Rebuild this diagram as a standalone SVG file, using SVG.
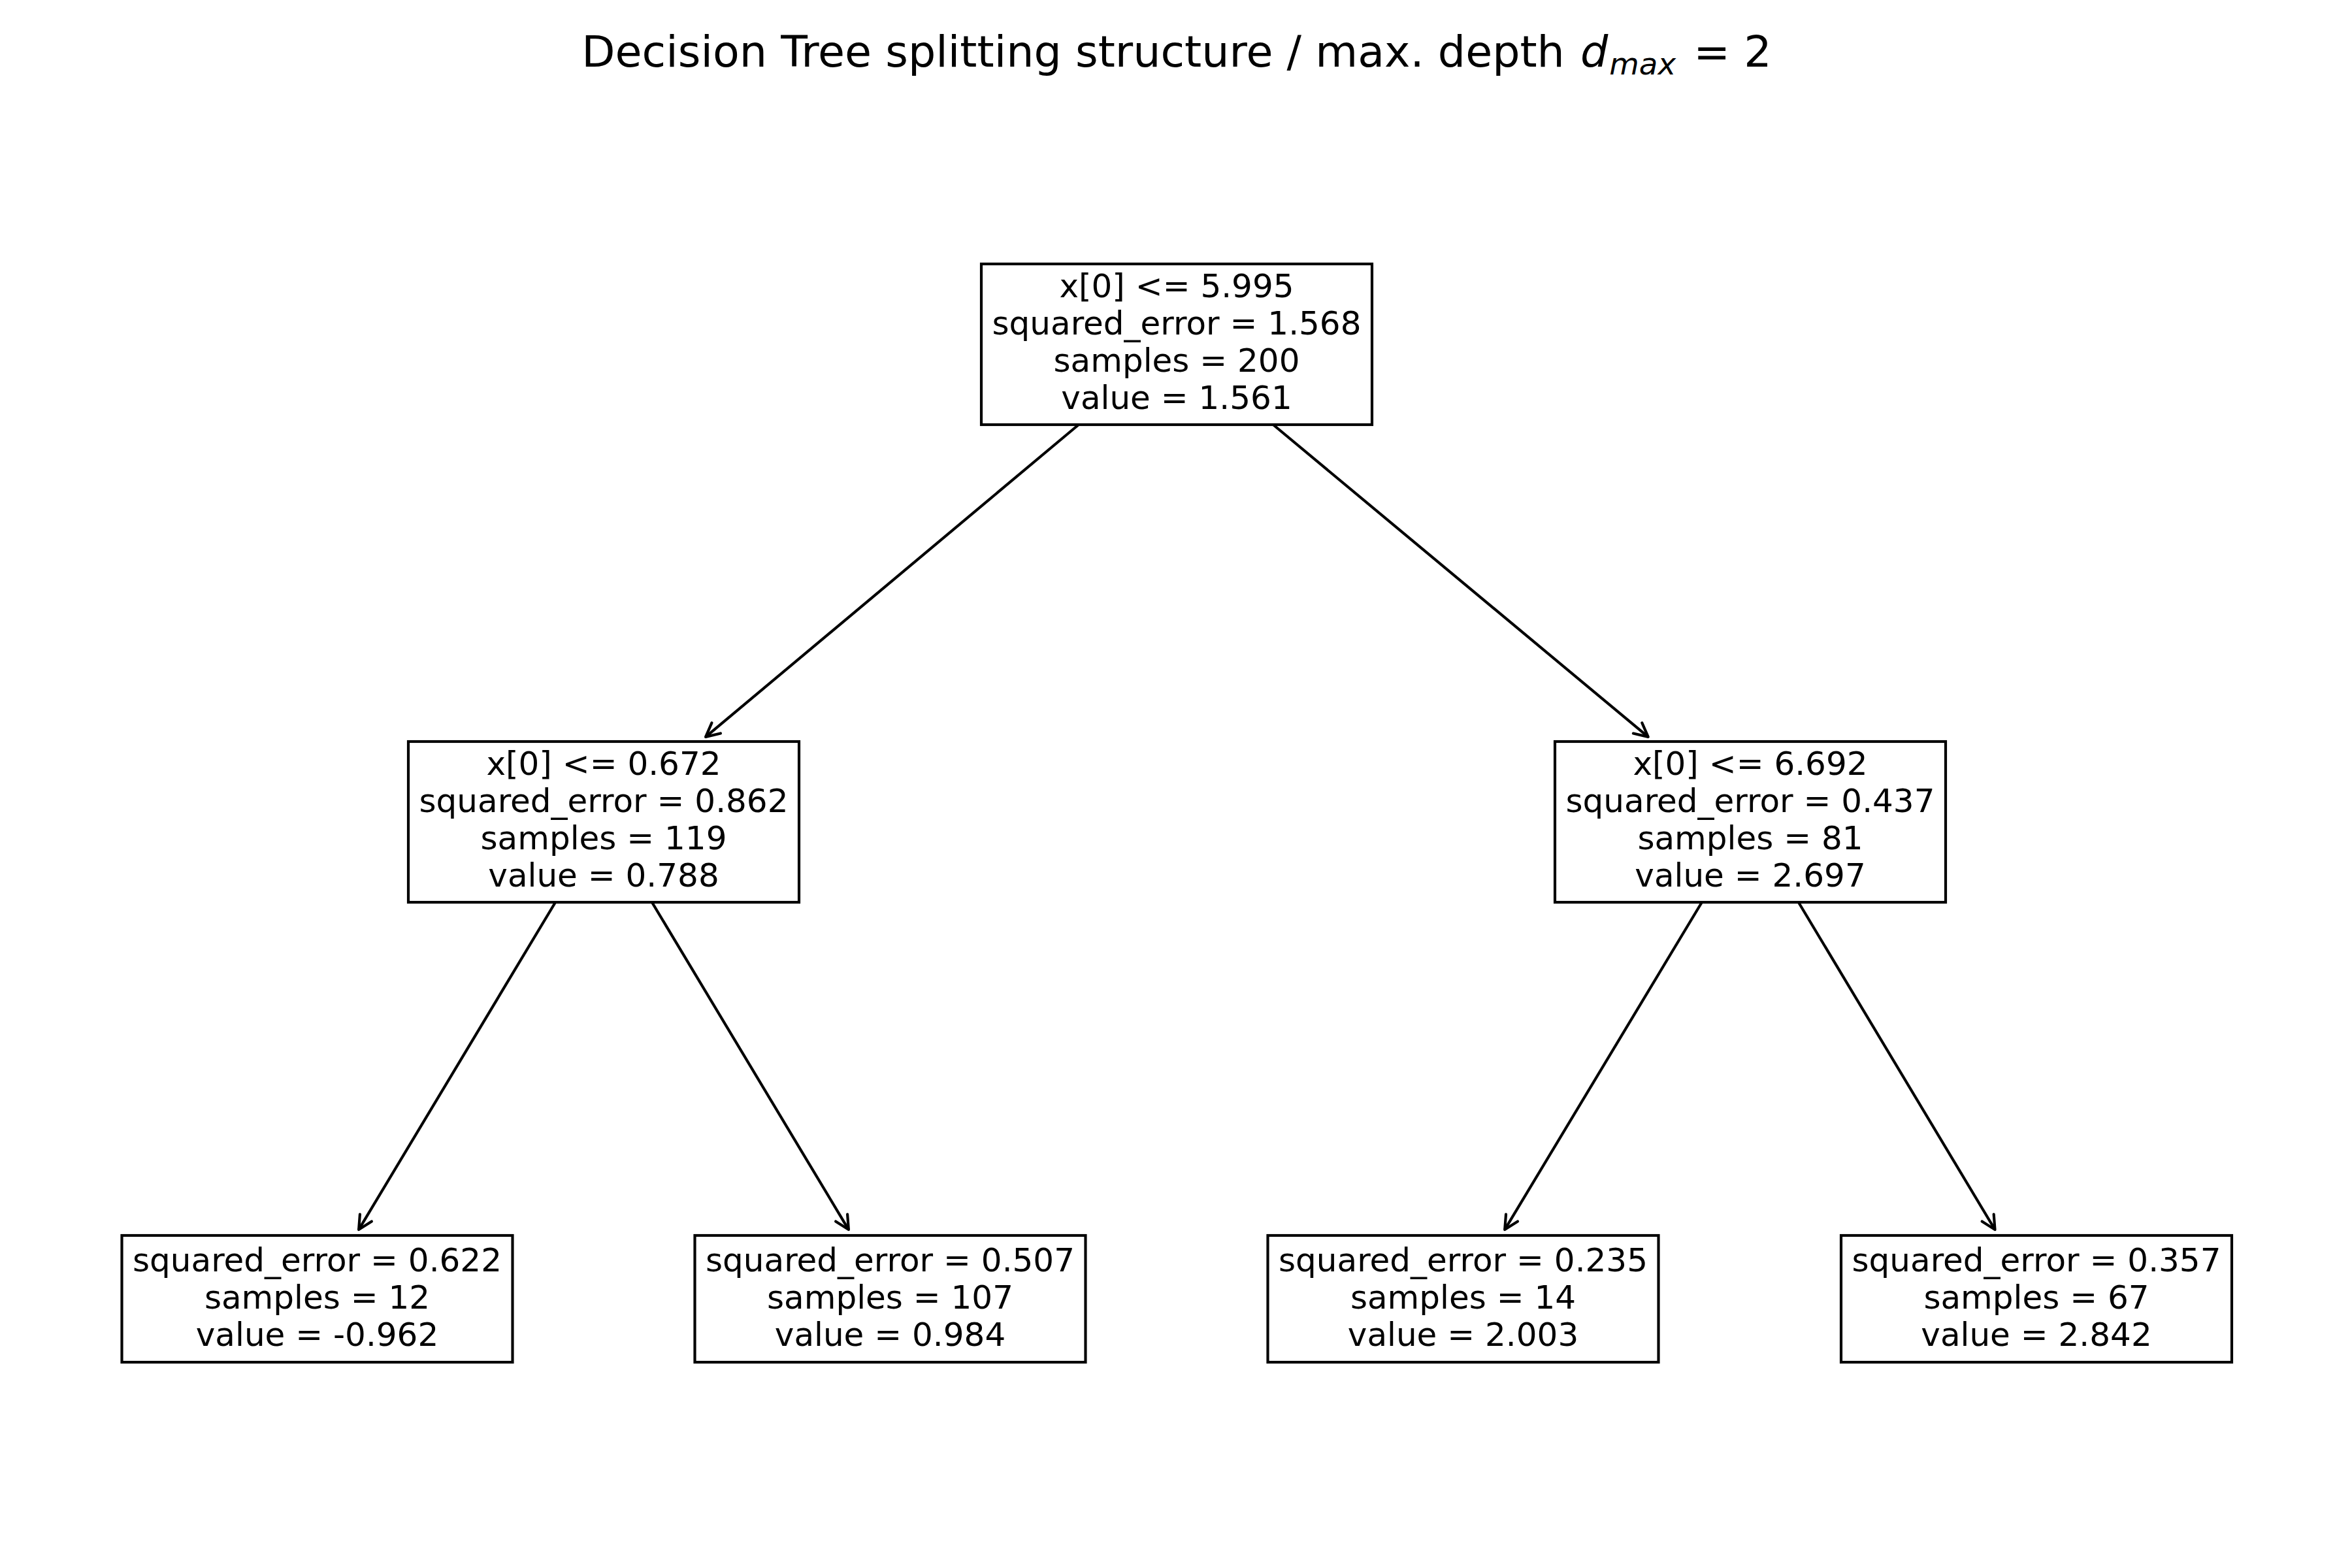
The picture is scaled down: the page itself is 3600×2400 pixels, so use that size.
<svg xmlns="http://www.w3.org/2000/svg" width="3600" height="2400" viewBox="0 0 3600 2400">
<style>
.t{font-family:"DejaVu Sans","Liberation Sans",sans-serif;font-size:50px;fill:#000;text-anchor:middle}
.title{font-family:"DejaVu Sans","Liberation Sans",sans-serif;font-size:66.67px;fill:#000;text-anchor:middle}
.box{fill:#fff;stroke:#000;stroke-width:4.17}
.edge{fill:none;stroke:#000;stroke-width:4.17;stroke-linejoin:round;marker-end:url(#head)}
</style>
<defs>
<marker id="head" markerUnits="userSpaceOnUse" markerWidth="40" markerHeight="40" viewBox="-30 -20 40 40" refX="0" refY="0" orient="auto">
<path d="M -21 -10.5 L 0 0 L -21 10.5" fill="none" stroke="#000" stroke-width="4.17" stroke-linejoin="round" stroke-linecap="round"/>
</marker>
</defs>
<rect x="0" y="0" width="3600" height="2400" fill="#fff"/>
<text class="title" x="1801" y="102">Decision Tree splitting structure / max. depth <tspan font-style="italic" dx="3">d</tspan><tspan font-style="italic" font-size="46.7" dx="2" dy="12">max</tspan><tspan dx="6" dy="-12"> = 2</tspan></text>
<g id="connectors">
<line class="edge" x1="1651" y1="650" x2="1080.1" y2="1127.9"/>
<line class="edge" x1="1948.7" y1="650" x2="2522.7" y2="1127.9"/>
<line class="edge" x1="850.1" y1="1381" x2="549.1" y2="1882.1"/>
<line class="edge" x1="997.9" y1="1381" x2="1298.9" y2="1882.1"/>
<line class="edge" x1="2604.9" y1="1381" x2="2303.2" y2="1882.1"/>
<line class="edge" x1="2752.8" y1="1381" x2="3053.5" y2="1882.1"/>
</g>
<g id="node0">
<rect class="box" x="1502" y="404" width="598" height="246"/>
<text class="t" x="1801" y="455">x[0] &lt;= 5.995</text>
<text class="t" x="1801" y="512">squared_error = 1.568</text>
<text class="t" x="1801" y="569">samples = 200</text>
<text class="t" x="1801" y="626">value = 1.561</text>
</g>
<g id="node1">
<rect class="box" x="625" y="1135" width="598" height="246"/>
<text class="t" x="924" y="1186">x[0] &lt;= 0.672</text>
<text class="t" x="924" y="1243">squared_error = 0.862</text>
<text class="t" x="924" y="1300">samples = 119</text>
<text class="t" x="924" y="1357">value = 0.788</text>
</g>
<g id="node4">
<rect class="box" x="2380" y="1135" width="598" height="246"/>
<text class="t" x="2679" y="1186">x[0] &lt;= 6.692</text>
<text class="t" x="2679" y="1243">squared_error = 0.437</text>
<text class="t" x="2679" y="1300">samples = 81</text>
<text class="t" x="2679" y="1357">value = 2.697</text>
</g>
<g id="node2">
<rect class="box" x="186.5" y="1891" width="598" height="194"/>
<text class="t" x="485.5" y="1946">squared_error = 0.622</text>
<text class="t" x="485.5" y="2003">samples = 12</text>
<text class="t" x="485.5" y="2060">value = -0.962</text>
</g>
<g id="node3">
<rect class="box" x="1063.5" y="1891" width="598" height="194"/>
<text class="t" x="1362.5" y="1946">squared_error = 0.507</text>
<text class="t" x="1362.5" y="2003">samples = 107</text>
<text class="t" x="1362.5" y="2060">value = 0.984</text>
</g>
<g id="node5">
<rect class="box" x="1940.5" y="1891" width="598" height="194"/>
<text class="t" x="2239.5" y="1946">squared_error = 0.235</text>
<text class="t" x="2239.5" y="2003">samples = 14</text>
<text class="t" x="2239.5" y="2060">value = 2.003</text>
</g>
<g id="node6">
<rect class="box" x="2818" y="1891" width="598" height="194"/>
<text class="t" x="3117" y="1946">squared_error = 0.357</text>
<text class="t" x="3117" y="2003">samples = 67</text>
<text class="t" x="3117" y="2060">value = 2.842</text>
</g>
</svg>
